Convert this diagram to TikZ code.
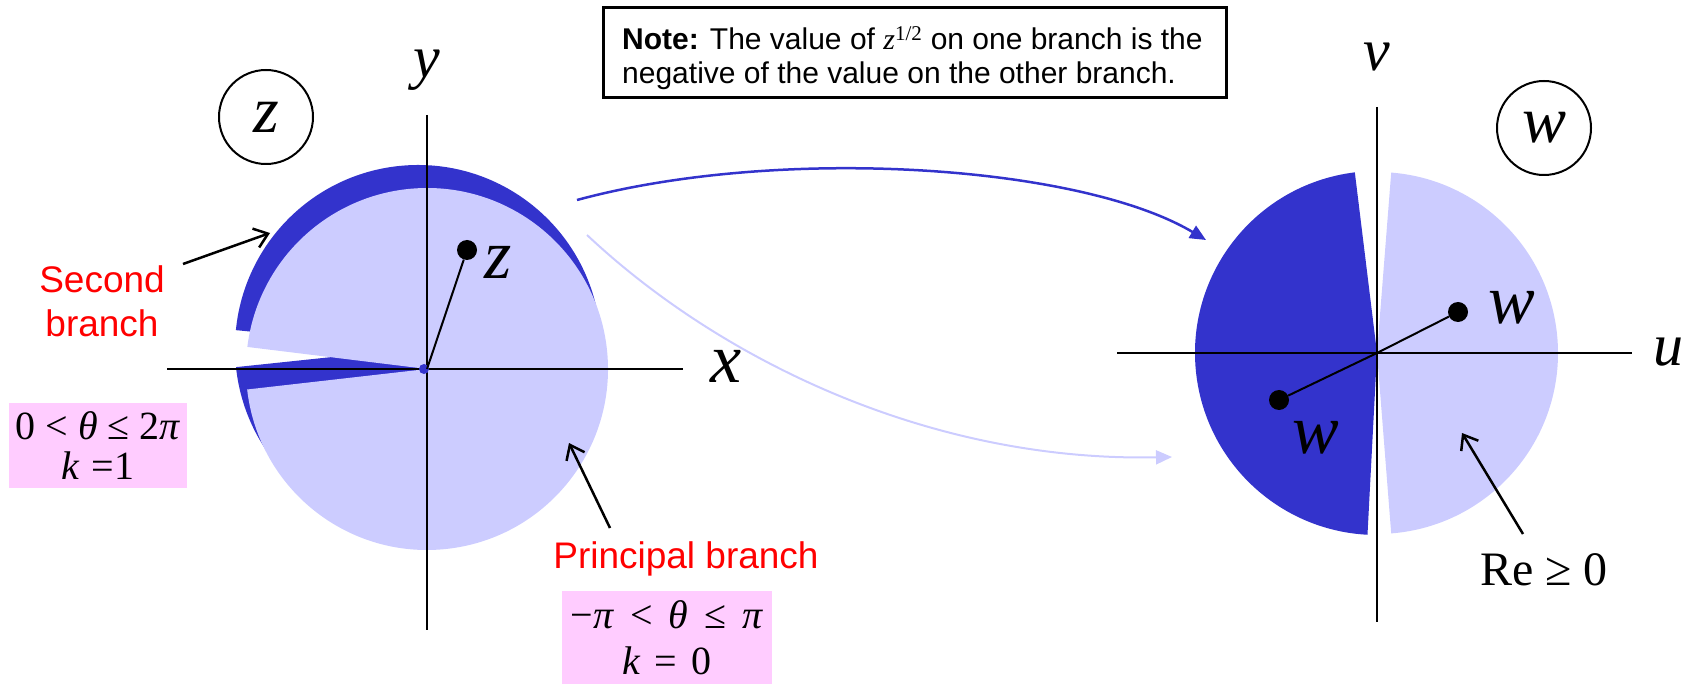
\documentclass[tikz,border=0pt]{standalone}
\usepackage{fontspec}
\setmainfont{Liberation Serif}
\setsansfont{Liberation Sans}
\usetikzlibrary{arrows.meta}
\definecolor{darkb}{HTML}{3333CC}
\definecolor{lightb}{HTML}{CCCCFF}
\definecolor{pinkb}{HTML}{FFCCFF}
\definecolor{redt}{HTML}{FF0000}
\newcommand\myfs[2]{\fontsize{#1}{#2}\selectfont}
\begin{document}
\begin{tikzpicture}[x=1pt,y=-1pt,
  axisline/.style={line width=2pt},
  varlbl/.style={inner sep=0pt, font=\myfs{60}{60}\itshape},
  ptlbl/.style={inner sep=0pt, font=\myfs{70}{70}\itshape},
  planelbl/.style={circle, draw, line width=2pt, minimum size=94pt, inner sep=0pt, font=\myfs{66}{66}\itshape},
  pdot/.style={circle, fill=black, inner sep=0pt, minimum size=20pt},
  pointer/.style={line width=2.5pt, -{Straight Barb[length=13pt,width=20pt]}},
  redlbl/.style={inner sep=0pt, text=redt, font=\sffamily\myfs{37}{37}},
  pinkbox/.style={fill=pinkb, inner sep=0pt, align=center},
  notetxt/.style={inner sep=0pt, font=\sffamily\myfs{30}{30}},
  maparrow/.style={line width=2.5pt, -{Triangle[length=16pt,width=14pt]}}
]
\useasboundingbox (0,0) rectangle (1689,684);
% left plane: second branch sheet and principal sheet
\fill[darkb] (418,348) -- ++(-186:183) arc[start angle=-186, end angle=-534.4, radius=183] -- cycle;
\fill[lightb] (427,369) -- ++(-186.5:181) arc[start angle=-186.5, end angle=-533, radius=181] -- cycle;
% right plane
\fill[darkb] (1377,353) -- ++(-97:182) arc[start angle=-97, end angle=-267, radius=182] -- cycle;
\fill[lightb] (1377,353) -- ++(85.5:181) arc[start angle=85.5, end angle=-85.5, radius=181] -- cycle;

% axes
\coordinate (zO) at (427,369);
\coordinate (xL) at (167,369);
\coordinate (xR) at (683,369);
\coordinate (yT) at (427,115);
\coordinate (yB) at (427,630);
\coordinate (wO) at (1377,353);
\coordinate (uL) at (1117,353);
\coordinate (uR) at (1632,353);
\coordinate (vT) at (1377,107);
\coordinate (vB) at (1377,622);
\draw[axisline] (xL) -- (xR);
\draw[axisline] (yT) -- (yB);
\draw[axisline] (uL) -- (uR);
\draw[axisline] (vT) -- (vB);
\fill[darkb] (424,369) circle[radius=5];

% points
\node[pdot] (zdot) at (467,250) {};
\draw[line width=2pt] (zO) -- (zdot);
\node[ptlbl] (zlab) at (498,262) {z};
\node[pdot] (w1) at (1458,312) {};
\node[pdot] (w2) at (1279,400) {};
\draw[line width=2pt] (wO) -- (w1);
\draw[line width=2pt] (wO) -- (w2);
\node[ptlbl] (w1lab) at (1512,308) {w};
\node[ptlbl] (w2lab) at (1316,438) {w};

% axis labels
\node[varlbl] (ylab) at (427,70) {y};
\node[varlbl, font=\myfs{70}{70}\itshape] (xlab) at (726,366) {x};
\node[varlbl] (vlab) at (1377,57) {v};
\node[varlbl] (ulab) at (1668,352) {u};
\node[planelbl] (zc) at (266,117) {z};
\node[planelbl] (wc) at (1544,128) {w};

% note
\node[draw, line width=3pt, minimum width=623pt, minimum height=90pt, inner sep=0pt] (notebox) at (915,52.5) {};
\node[notetxt, anchor=base west] (note1) at (622,50) {\textbf{Note:} The value of {\rmfamily\itshape z}\textsuperscript{\rmfamily 1/2} on one branch is the};
\node[notetxt, anchor=base west] (note2) at (622,84) {negative of the value on the other branch.};

% red labels and pointers
\node[redlbl, anchor=base] (sec1) at (102,293) {Second};
\node[redlbl, anchor=base] (sec2) at (102,337) {branch};
\node[redlbl, anchor=base] (princ) at (686,568) {Principal branch};
\coordinate (secTail) at (183,264);
\coordinate (secTip) at (270,233);
\coordinate (prTail) at (610,528);
\coordinate (prTip) at (569,443);
\coordinate (reTail) at (1523,534);
\coordinate (reTip) at (1462,433);
\draw[pointer] (secTail) -- (secTip);
\draw[pointer] (prTail) -- (prTip);
\draw[pointer] (reTail) -- (reTip);

% pink boxes
\node[pinkbox, minimum width=178pt, minimum height=85pt, font=\myfs{40}{40}] (k1) at (98,445.5) {0 < \textit{θ} ≤ 2\textit{π}\\\textit{k}\hspace{0.3em}=1};
\node[pinkbox, minimum width=210pt, minimum height=95pt, font=\myfs{40}{46}] (k0) at (667,638) {−\textit{π}\hspace{0.4em}<\hspace{0.4em}\textit{θ}\hspace{0.4em}≤\hspace{0.4em}\textit{π}\\\textit{k}\hspace{0.35em}=\hspace{0.35em}0};
\node[inner sep=0pt, font=\myfs{48}{48}, anchor=base] (re) at (1544,585) {Re ≥ 0};

% mapping arrows
\coordinate (mapA1) at (577,200);
\coordinate (mapB1) at (1206,240);
\coordinate (mapA2) at (587,235);
\coordinate (mapB2) at (1172,457);
\draw[maparrow, darkb] (mapA1) .. controls (780,145) and (1080,165) .. (mapB1);
\draw[maparrow, lightb, line width=2pt] (mapA2) .. controls (720,360) and (930,462) .. (mapB2);
\end{tikzpicture}
\end{document}
